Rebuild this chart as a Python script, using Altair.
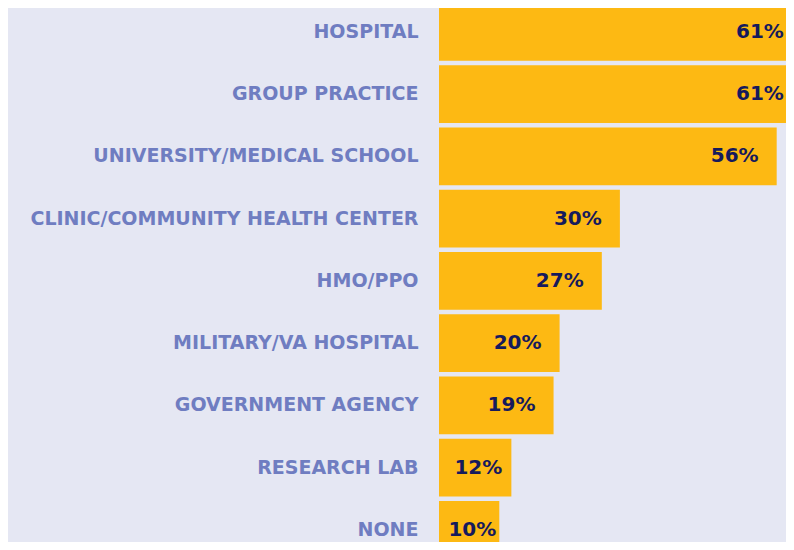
import altair as alt
import pandas as pd

categories = [
    "HOSPITAL",
    "GROUP PRACTICE",
    "UNIVERSITY/MEDICAL SCHOOL",
    "CLINIC/COMMUNITY HEALTH CENTER",
    "HMO/PPO",
    "MILITARY/VA HOSPITAL",
    "GOVERNMENT AGENCY",
    "RESEARCH LAB",
    "NONE",
]
values = [61, 61, 56, 30, 27, 20, 19, 12, 10]

df = pd.DataFrame({"category": categories, "value": values})

BG = "#E5E7F3"
BAR = "#FDB913"
LABEL = "#6F7DC1"
VALUE = "#161A5C"

yscale = alt.Scale(range=[-7.25, 553], paddingInner=0.072, paddingOuter=0.036)
xscale = alt.Scale(domain=[0, 100], range=[0, 603])

y = alt.Y(
    "category:N",
    sort=categories,
    scale=yscale,
    axis=alt.Axis(
        title=None,
        ticks=False,
        domain=False,
        grid=False,
        labelPadding=21,
        labelFont="DejaVu Sans",
        labelFontWeight="bold",
        labelFontSize=19,
        labelColor=LABEL,
        labelLimit=500,
    ),
)

bars = alt.Chart(df).mark_bar(color=BAR).encode(
    x=alt.X("value:Q", scale=xscale, axis=None),
    y=y,
)

labels = (
    alt.Chart(df)
    .transform_calculate(
        pos="min(max(datum.value - 3, 0.5 * datum.value + 4.5), 57.2)",
        lbl="datum.value + '%'",
    )
    .mark_text(
        align="right",
        baseline="middle",
        font="DejaVu Sans",
        fontWeight="bold",
        fontSize=20,
        color=VALUE,
    )
    .encode(
        x=alt.X("pos:Q", scale=xscale, axis=None),
        y=y,
        text="lbl:N",
    )
)

chart = (
    alt.layer(bars, labels)
    .properties(
        width=347,
        height=534,
        autosize="none",
        padding={"left": 431, "top": 0, "right": 0, "bottom": 0},
        background=BG,
    )
    .configure_view(stroke=None)
)

chart.save("out.html", embed_options={"renderer": "svg", "actions": False})
